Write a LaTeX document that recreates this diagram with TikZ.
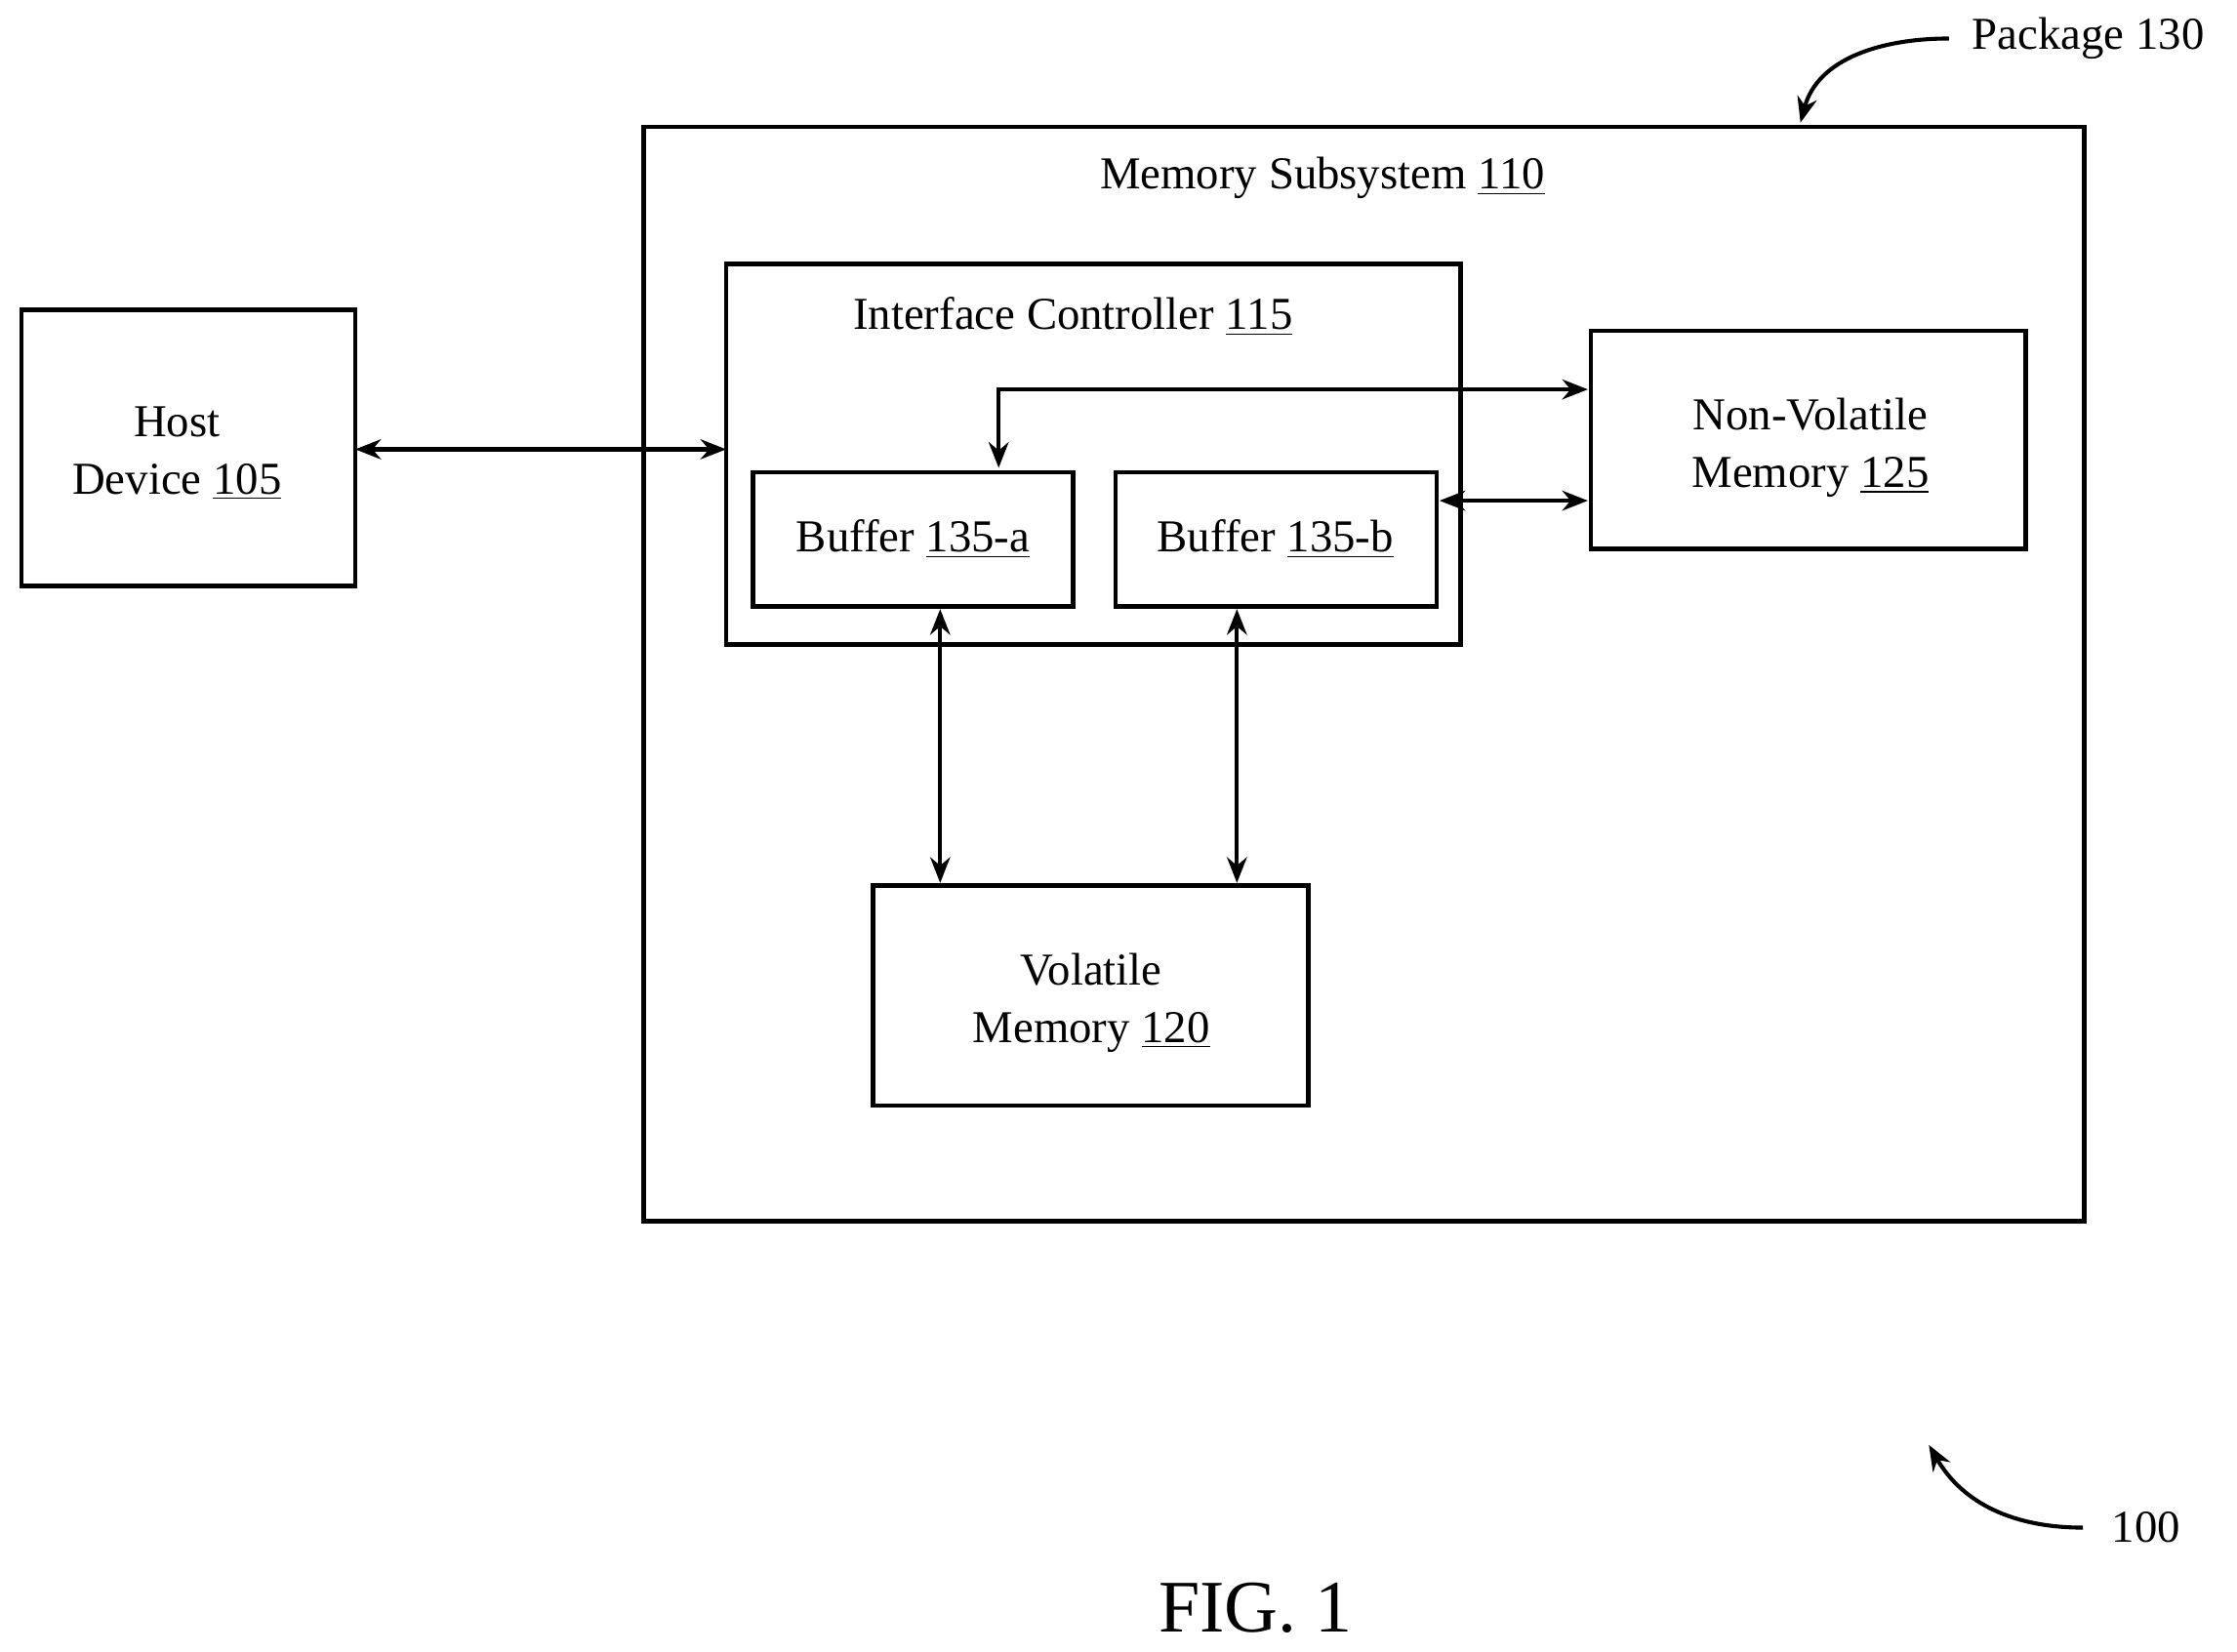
\documentclass[tikz,border=0pt]{standalone}
\usepackage{fontspec}
\setmainfont{Liberation Serif}
\usetikzlibrary{arrows.meta}
\begin{document}
\begin{tikzpicture}[x=0.5pt,y=-0.5pt,
  box/.style={draw,line width=1.6pt},
  lbl/.style={font=\fontsize{16}{20}\selectfont,align=center,inner sep=0},
  arr/.style={line width=1.4pt,{Stealth[length=9pt,width=7pt]}-{Stealth[length=9pt,width=7pt]}},
  carr/.style={line width=1.4pt,-{Stealth[length=9pt,width=7pt]}}]
\useasboundingbox (0,0) rectangle (1568,1158);
\draw[box] (15,217) rectangle (249,411);
\node[lbl] (host) at (124,318) {Host\\Device \underline{105}};
\coordinate (hostE) at (249,315);
\draw[box] (451,89) rectangle (1461,856);
\node[lbl] (ms) at (927,125) {Memory Subsystem \underline{110}};
\draw[box] (509,185) rectangle (1024,452);
\node[lbl] (ic) at (752,222) {Interface Controller \underline{115}};
\coordinate (icW) at (509,315);
\draw[box] (528,331) rectangle (752,425);
\node[lbl] (ba) at (640,378) {Buffer \underline{135-a}};
\draw[box] (782,331) rectangle (1007,425);
\node[lbl] (bb) at (894,378) {Buffer \underline{135-b}};
\draw[box] (1115,232) rectangle (1420,385);
\node[lbl] (nvm) at (1269,314) {Non-Volatile\\Memory \underline{125}};
\draw[box] (612,621) rectangle (917,775);
\node[lbl] (vm) at (765,703) {Volatile\\Memory \underline{120}};
\draw[arr] (hostE) -- (icW);
\draw[arr] (700,328) -- (700,273) -- (1113,273);
\draw[arr] (1009,351) -- (1113,351);
\draw[arr] (659,427) -- (659,619);
\draw[arr] (867,427) -- (867,619);
\node[lbl,anchor=west] (pkg) at (1382,27) {Package 130};
\draw[carr] (1366,27) to[out=180,in=75] (1262,86);
\node[lbl,anchor=west] (n100) at (1480,1071) {100};
\draw[carr] (1460,1071) to[out=180,in=-60] (1352,1013);
\node[font=\fontsize{26}{30}\selectfont,inner sep=0] (fig) at (880,1127) {FIG. 1};
\end{tikzpicture}
\end{document}
